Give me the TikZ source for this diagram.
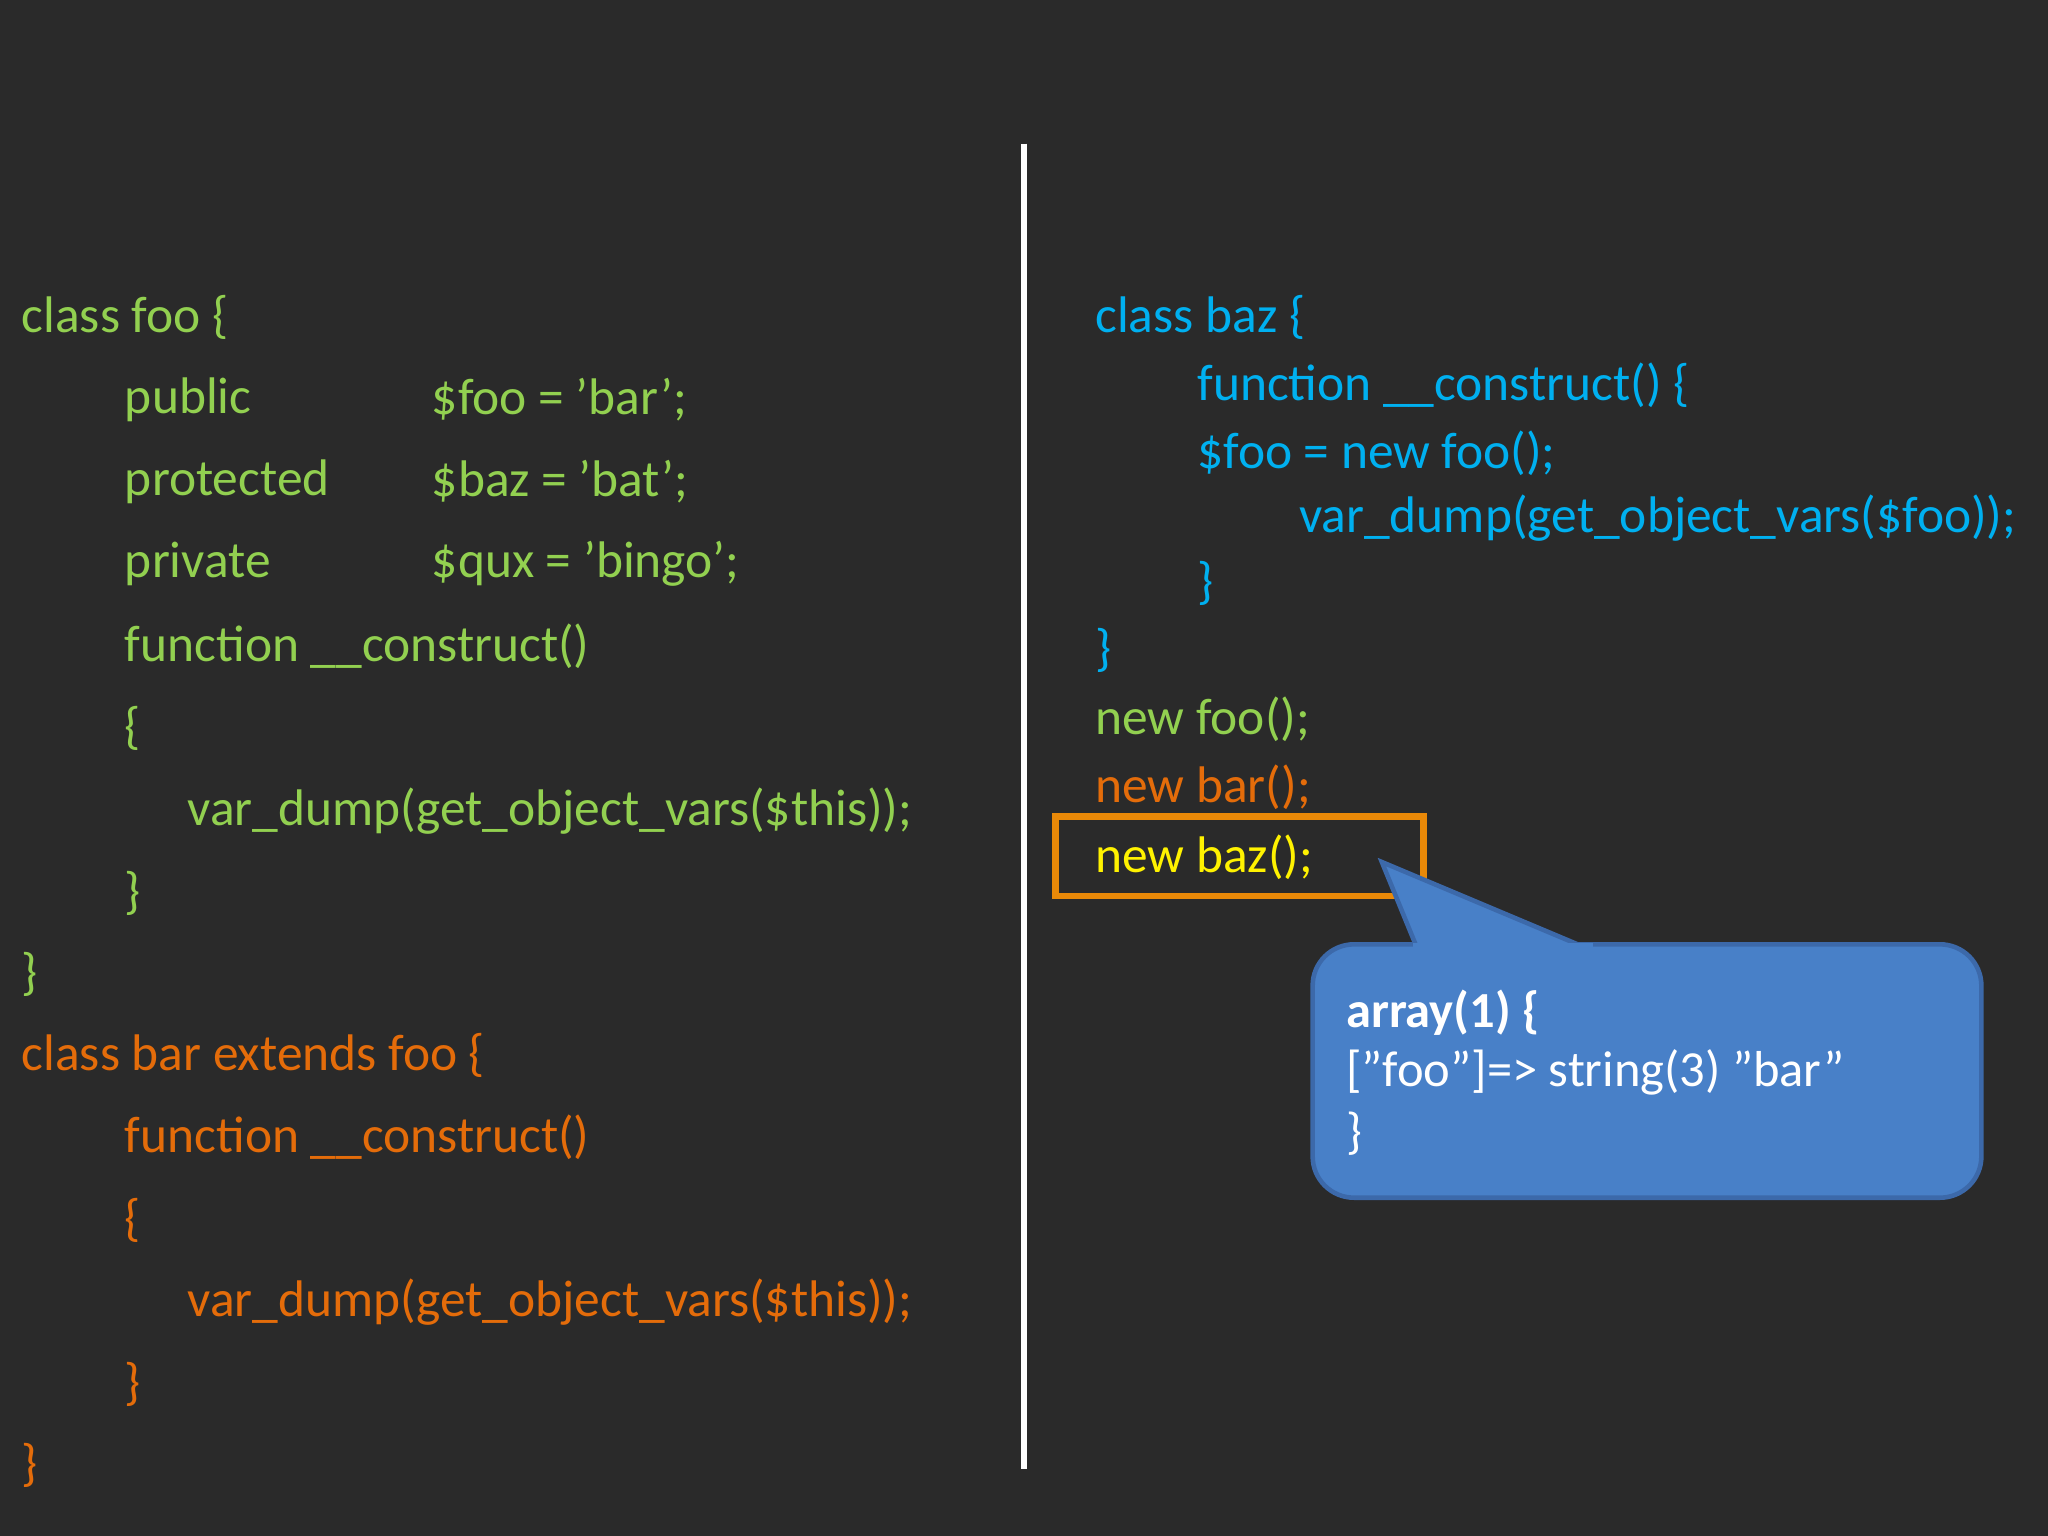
\documentclass[tikz,border=0pt]{standalone}
\usepackage{fontspec}
\setmainfont{Carlito}
\usetikzlibrary{positioning}
\definecolor{board}{RGB}{42,42,42}
\definecolor{codegreen}{RGB}{146,208,80}
\definecolor{codeorange}{RGB}{228,108,10}
\definecolor{codeblue}{RGB}{0,176,240}
\definecolor{calloutblue}{RGB}{72,128,200}
\definecolor{calloutedge}{RGB}{60,105,170}
\newcommand{\dq}{\symbol{34}}
\tikzset{code/.style={anchor=west,inner sep=0pt,font=\fontsize{11.2}{13}\selectfont}}
\begin{document}
\begin{tikzpicture}[%
      x=0.01cm,y=-0.01cm,
      ]
      \fill [board] (0,0) rectangle (1568,1176);
      \useasboundingbox (0,0) rectangle (1568,1176);
      \draw [white,line width=1.2pt] (784,110) coordinate (top) -- (784,1125) coordinate (bot);

      % left column: class foo
      \node [code,codegreen] (foo1) at (16,243) {class foo \{};
      \node [code,codegreen] (foo2) at (95,306) {public};
      \node [code,codegreen] (foo2v) at (330,306) {\$foo = ’bar’;};
      \node [code,codegreen] (foo3) at (95,369) {protected};
      \node [code,codegreen] (foo3v) at (330,369) {\$baz = ’bat’;};
      \node [code,codegreen] (foo4) at (95,432) {private};
      \node [code,codegreen] (foo4v) at (330,432) {\$qux = ’bingo’;};
      \node [code,codegreen] (foo5) at (95,495) {function \_\_construct()};
      \node [code,codegreen] (foo6) at (95,558) {\{};
      \node [code,codegreen] (foo7) at (143,621) {var\_dump(get\_object\_vars(\$this));};
      \node [code,codegreen] (foo8) at (95,684) {\}};
      \node [code,codegreen] (foo9) at (16,746) {\}};

      % left column: class bar
      \node [code,codeorange] (bar1) at (16,808) {class bar extends foo \{};
      \node [code,codeorange] (bar2) at (95,871) {function \_\_construct()};
      \node [code,codeorange] (bar3) at (95,934) {\{};
      \node [code,codeorange] (bar4) at (143,997) {var\_dump(get\_object\_vars(\$this));};
      \node [code,codeorange] (bar5) at (95,1060) {\}};
      \node [code,codeorange] (bar6) at (16,1122) {\}};

      % right column
      \node [code,codeblue] (baz1) at (838,243) {class baz \{};
      \node [code,codeblue] (baz2) at (916,295) {function \_\_construct() \{};
      \node [code,codeblue] (baz3) at (916,347) {\$foo = new foo();};
      \node [code,codeblue] (baz4) at (994,397) {var\_dump(get\_object\_vars(\$foo));};
      \node [code,codeblue] (baz5) at (916,447) {\}};
      \node [code,codeblue] (baz6) at (838,498) {\}};
      \node [code,codegreen] (new1) at (838,551) {new foo();};
      \node [code,codeorange] (new2) at (838,603) {new bar();};
      \node [code,yellow] (new3) at (838,656) {new baz();};
      \draw [codeorange!80!yellow,line width=1.5pt] (808,625) rectangle (1090,686);

      % callout
      \filldraw [fill=calloutblue,draw=calloutedge,line width=1pt,rounded corners=9pt]
        (1005,723) rectangle (1517,917);
      \filldraw [fill=calloutblue,draw=calloutedge,line width=1pt]
        (1085,726) -- (1058,660) -- (1215,726);
      \fill [calloutblue] (1082,722) rectangle (1220,732);
      \node [code,white,font=\bfseries\fontsize{11}{13}\selectfont] (out1) at (1030,775) {array(1) \{};
      \node [code,white,font=\fontsize{11}{13}\selectfont] (out2) at (1030,821) {[\dq foo\dq]=> string(3) \dq bar\dq};
      \node [code,white,font=\fontsize{11}{13}\selectfont] (out3) at (1030,868) {\}};
      \end{tikzpicture}
\end{document}
